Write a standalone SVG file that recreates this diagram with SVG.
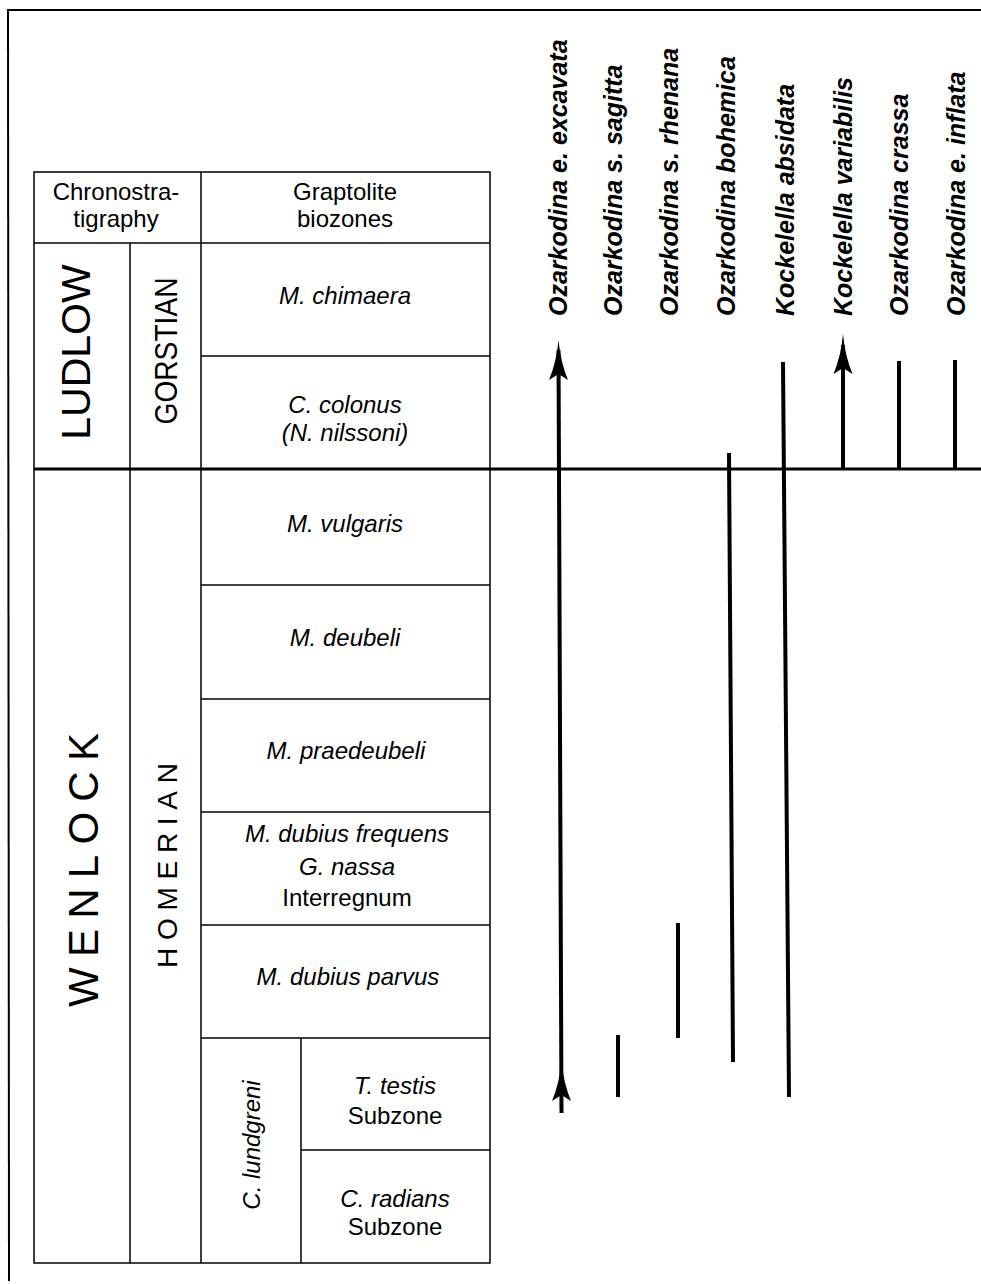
<svg xmlns="http://www.w3.org/2000/svg" xmlns:xlink="http://www.w3.org/1999/xlink" width="981" height="1284" viewBox="0 0 981 1284">
<style>
.ln{stroke:#000;stroke-width:1.5;fill:none}
.frame{stroke:#000;stroke-width:2;fill:none}
.bnd{stroke:#000;stroke-width:3;fill:none}
.rng{stroke:#000;stroke-width:4;fill:none}
.t{font-family:"Liberation Sans",Arial,Helvetica,sans-serif;font-size:24px;fill:#000;text-anchor:middle}
.i{font-style:italic}
.sp{font-family:"Liberation Sans",Arial,Helvetica,sans-serif;font-size:25px;font-weight:bold;font-style:italic;fill:#000}
.big{font-family:"Liberation Sans",Arial,Helvetica,sans-serif;fill:#000;text-anchor:middle}
</style>
<defs>
<path id="ah" d="M0,0 Q2,22 9.5,40 L0,34 L-9.5,40 Q-2,22 0,0 Z" fill="#000"/>
</defs>
<rect x="0" y="0" width="981" height="1284" fill="#fff"/>
<g id="frame">
<line class="frame" x1="7" y1="10" x2="981" y2="10"/>
<line class="frame" x1="8" y1="10" x2="9" y2="1281"/>
</g>
<g id="table">
<rect class="ln" x="34" y="172" width="456" height="1091"/>
<line class="ln" x1="130" y1="243" x2="130" y2="1263"/>
<line class="ln" x1="201" y1="172" x2="201" y2="1263"/>
<line class="ln" x1="301" y1="1038" x2="301" y2="1263"/>
<line class="ln" x1="34" y1="243" x2="490" y2="243"/>
<line class="ln" x1="201" y1="356" x2="490" y2="356"/>
<line class="ln" x1="201" y1="585" x2="490" y2="585"/>
<line class="ln" x1="201" y1="699" x2="490" y2="699"/>
<line class="ln" x1="201" y1="812" x2="490" y2="812"/>
<line class="ln" x1="201" y1="925" x2="490" y2="925"/>
<line class="ln" x1="201" y1="1038" x2="490" y2="1038"/>
<line class="ln" x1="301" y1="1150" x2="490" y2="1150"/>
</g>
<g id="header-chrono">
<text class="t" x="116" y="200">Chronostra-</text>
<text class="t" x="116" y="227">tigraphy</text>
</g>
<g id="header-grapt">
<text class="t" x="345" y="200">Graptolite</text>
<text class="t" x="345" y="227">biozones</text>
</g>
<g id="ludlow"><text class="big" font-size="41" transform="translate(90,352) rotate(-90)">LUDLOW</text></g>
<g id="gorstian"><text class="big" font-size="32" textLength="147" lengthAdjust="spacingAndGlyphs" transform="translate(177,351) rotate(-90)">GORSTIAN</text></g>
<g id="wenlock"><text class="big" font-size="42" text-anchor="start" style="text-anchor:start" textLength="274" lengthAdjust="spacing" transform="translate(98,1007) rotate(-90)">WENLOCK</text></g>
<g id="homerian"><text class="big" font-size="28" style="text-anchor:start" textLength="205" lengthAdjust="spacing" transform="translate(177,968) rotate(-90)">HOMERIAN</text></g>
<g id="lundgreni"><text class="t i" transform="translate(260,1145) rotate(-90)">C. lundgreni</text></g>
<g id="z-chimaera"><text class="t i" x="345" y="304">M. chimaera</text></g>
<g id="z-colonus"><text class="t i" x="345" y="413">C. colonus</text><text class="t i" x="345" y="441">(N. nilssoni)</text></g>
<g id="z-vulgaris"><text class="t i" x="345" y="532">M. vulgaris</text></g>
<g id="z-deubeli"><text class="t i" x="345" y="646">M. deubeli</text></g>
<g id="z-praedeubeli"><text class="t i" x="346" y="759">M. praedeubeli</text></g>
<g id="z-frequens"><text class="t i" x="347" y="842">M. dubius frequens</text><text class="t i" x="347" y="875">G. nassa</text><text class="t" x="347" y="906">Interregnum</text></g>
<g id="z-parvus"><text class="t i" x="348" y="985">M. dubius parvus</text></g>
<g id="z-testis"><text class="t i" x="395" y="1094">T. testis</text><text class="t" x="395" y="1124">Subzone</text></g>
<g id="z-radians"><text class="t i" x="395" y="1207">C. radians</text><text class="t" x="395" y="1235">Subzone</text></g>
<g id="sp-excavata"><text class="sp" transform="translate(567,316) rotate(-90)">Ozarkodina e. excavata</text></g>
<g id="sp-sagitta"><text class="sp" transform="translate(622,316) rotate(-90)">Ozarkodina s. sagitta</text></g>
<g id="sp-rhenana"><text class="sp" transform="translate(678,316) rotate(-90)">Ozarkodina s. rhenana</text></g>
<g id="sp-bohemica"><text class="sp" transform="translate(735,316) rotate(-90)">Ozarkodina bohemica</text></g>
<g id="sp-absidata"><text class="sp" transform="translate(794,316) rotate(-90)">Kockelella absidata</text></g>
<g id="sp-variabilis"><text class="sp" transform="translate(852,316) rotate(-90)">Kockelella variabilis</text></g>
<g id="sp-crassa"><text class="sp" transform="translate(908,316) rotate(-90)">Ozarkodina crassa</text></g>
<g id="sp-inflata"><text class="sp" transform="translate(965,316) rotate(-90)">Ozarkodina e. inflata</text></g>
<g id="connectors">
<line class="bnd" x1="34" y1="469" x2="981" y2="469"/>
<line class="rng" x1="558.5" y1="350" x2="561.5" y2="1113"/>
<use xlink:href="#ah" x="558.5" y="340"/>
<use xlink:href="#ah" x="561.5" y="1061"/>
<line class="rng" x1="618" y1="1035" x2="618" y2="1097"/>
<line class="rng" x1="678" y1="923" x2="678" y2="1038"/>
<line class="rng" x1="729" y1="453" x2="733" y2="1062"/>
<line class="rng" x1="783" y1="362" x2="789" y2="1097"/>
<line class="rng" x1="843" y1="345" x2="843" y2="469"/>
<use xlink:href="#ah" x="843" y="334"/>
<line class="rng" x1="899" y1="361" x2="899" y2="469"/>
<line class="rng" x1="955" y1="360" x2="955" y2="469"/>
</g>
</svg>
